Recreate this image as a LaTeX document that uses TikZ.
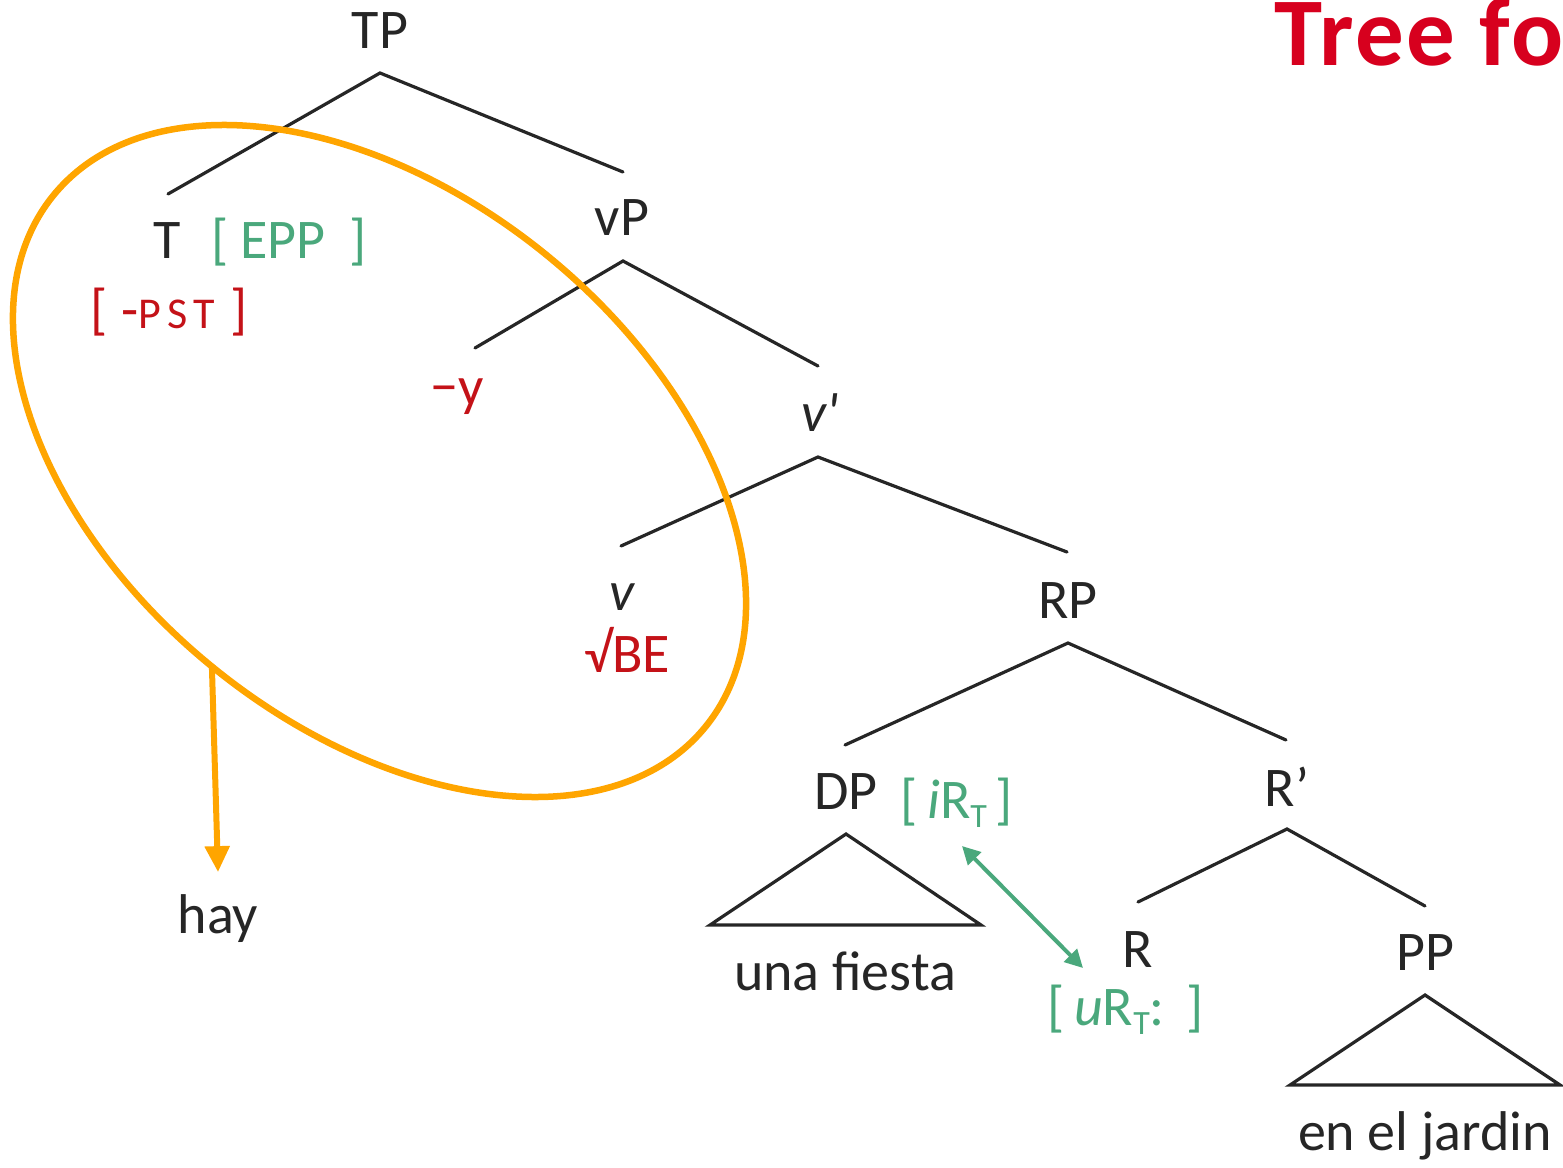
\documentclass[tikz,border=0pt]{standalone}
\usepackage{fontspec}
\setmainfont{Carlito}
\usetikzlibrary{arrows.meta,shapes.geometric}
\definecolor{ink}{RGB}{38,38,38}
\definecolor{fgreen}{RGB}{74,168,124}
\definecolor{fred}{RGB}{196,18,24}
\definecolor{tred}{RGB}{215,0,30}
\definecolor{halo}{RGB}{255,165,0}
\newcommand{\lowT}{\raisebox{-9pt}{\fontsize{34}{36}\selectfont T}}
\begin{document}
\begin{tikzpicture}[x=1pt,y=-1pt,
  lbl/.style={inner sep=0pt, outer sep=0pt, anchor=base, text=ink, font=\fontsize{56}{60}\selectfont},
  feat/.style={lbl, anchor=base west},
  branch/.style={draw=ink, line width=3.2pt, line cap=round},
  roof/.style={draw=ink, line width=3.2pt, line join=miter},
  ring/.style={draw=halo, line width=6.5pt, ellipse, inner sep=0pt, outer sep=0pt,
    minimum width=841.2pt, minimum height=530.4pt, rotate=-39.2},
  hop/.style={draw=halo, line width=6pt, -{Triangle[width=24pt,length=26pt]}},
  agree/.style={draw=fgreen, line width=4pt, {Triangle[width=18pt,length=18pt]}-{Triangle[width=18pt,length=18pt]}}]
\useasboundingbox (0,0) rectangle (1563,1167);
\clip (0,0) rectangle (1563,1167);

% title (cut off at the right edge, as in the reference)
\node[inner sep=0pt, anchor=base west, text=tred, font=\fontsize{97}{100}\selectfont\bfseries\addfontfeature{LetterSpace=2.5}] (title) at (1274,65) {Tree for};

% labels
\node[lbl] (tp) at (380,48) {TP};
\node[lbl] (t) at (167,258) {T};
\node[feat, text=fgreen] (epp) at (211,258) {[\hspace{12pt}EPP\hspace{24pt}]};
\node[feat, text=fred] (pst) at (90,328) {[\hspace{14pt}-{\fontsize{44}{48}\selectfont P\hspace{6pt}S\hspace{6pt}T}\hspace{16pt}]};
\node[lbl] (vp) at (622,235) {vP};
\node[lbl, text=fred] (vy) at (457,405) {−y};
\node[lbl] (vbar) at (820,431) {\itshape v\textquotesingle};
\node[lbl] (v) at (622,610) {\itshape v};
\node[lbl, text=fred] (be) at (627,672) {√BE};
\node[lbl] (rp) at (1068,618) {RP};
\node[lbl] (dp) at (846,809) {DP};
\node[feat, text=fgreen] (irt) at (900,818) {[\hspace{10pt}\textit{i}R\lowT\hspace{8pt}]};
\node[lbl] (fiesta) at (845,990) {una fiesta};
\node[lbl] (rbar) at (1287,806) {R’};
\node[lbl] (r) at (1138,967) {R};
\node[feat, text=fgreen] (urt) at (1047,1025) {[\hspace{10pt}\textit{u}R\lowT:\hspace{22pt}]};
\node[lbl] (pp) at (1425,970) {PP};
\node[lbl] (jardin) at (1425,1150) {en el jardin};
\node[lbl] (hay) at (218,933) {hay};

% branch points
\coordinate (tpA) at (380,73);
\coordinate (tpL) at (168,194);
\coordinate (tpR) at (623,172);
\coordinate (vpA) at (623,261);
\coordinate (vpL) at (475,348);
\coordinate (vpR) at (818,366);
\coordinate (vbA) at (818,457);
\coordinate (vbL) at (621,546);
\coordinate (vbR) at (1067,552);
\coordinate (rpA) at (1068,643);
\coordinate (rpL) at (845,745);
\coordinate (rpR) at (1286,740);
\coordinate (rbA) at (1287,829);
\coordinate (rbL) at (1138,902);
\coordinate (rbR) at (1425,906);
\coordinate (dpA) at (846,834);
\coordinate (dpL) at (710,925);
\coordinate (dpR) at (981,925);
\coordinate (ppA) at (1425,995);
\coordinate (ppL) at (1290,1085);
\coordinate (ppR) at (1560,1085);
\coordinate (ga) at (962,846);
\coordinate (gb) at (1083,968);

\draw[branch] (tpL) -- (tpA) -- (tpR);
\draw[branch] (vpL) -- (vpA) -- (vpR);
\draw[branch] (vbL) -- (vbA) -- (vbR);
\draw[branch] (rpL) -- (rpA) -- (rpR);
\draw[branch] (rbL) -- (rbA) -- (rbR);
\draw[roof] (dpA) -- (dpL) -- (dpR) -- cycle;
\draw[roof] (ppA) -- (ppL) -- (ppR) -- cycle;

% orange ring and arrow to "hay"
\node[ring] (ring) at (379.5,461) {};
\draw[hop] (ring.south) -- ([yshift=22pt]hay.north);

% agreement arrow
\draw[agree] (ga) -- (gb);
\end{tikzpicture}
\end{document}
